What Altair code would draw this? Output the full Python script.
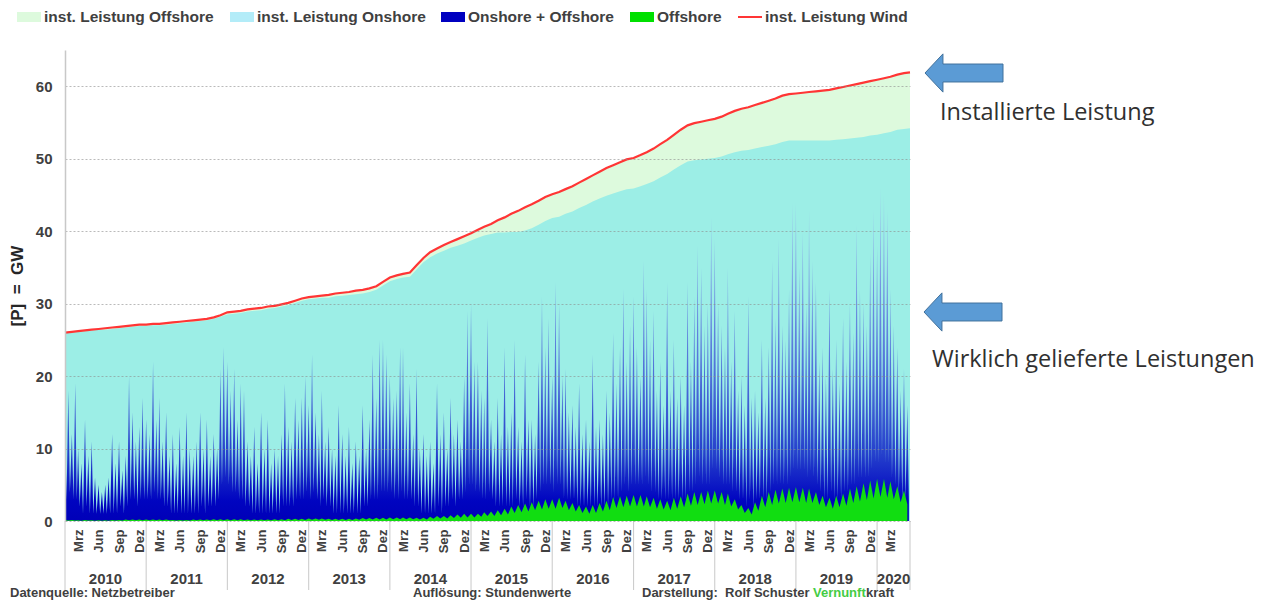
import altair as alt
import pandas as pd

FONT = "Liberation Sans"
TXT = "#404040"

# ---------------- data ----------------
# installed capacity, GW, at the start of each month 2010-01 .. 2020-05, plus end of series
inst_total = [
    26.0, 26.1, 26.2, 26.3, 26.4, 26.5, 26.6, 26.7, 26.8, 26.9, 27.0, 27.1,
    27.1, 27.2, 27.2, 27.3, 27.4, 27.5, 27.6, 27.7, 27.8, 27.9, 28.1, 28.4,
    28.8, 28.9, 29.0, 29.2, 29.3, 29.4, 29.6, 29.7, 29.9, 30.1, 30.4, 30.7,
    30.9, 31.0, 31.1, 31.2, 31.4, 31.5, 31.6, 31.8, 31.9, 32.1, 32.4, 33.0,
    33.6, 33.9, 34.1, 34.3, 35.3, 36.3, 37.1, 37.6, 38.1, 38.5, 38.9, 39.3,
    39.7, 40.2, 40.6, 41.0, 41.5, 41.9, 42.4, 42.8, 43.3, 43.7, 44.2, 44.7,
    45.1, 45.4, 45.8, 46.2, 46.7, 47.2, 47.7, 48.2, 48.7, 49.1, 49.5, 49.9,
    50.1, 50.5, 50.9, 51.4, 52.0, 52.6, 53.3, 54.0, 54.6, 54.9, 55.1, 55.3,
    55.5, 55.8, 56.2, 56.6, 56.9, 57.1, 57.4, 57.7, 58.0, 58.3, 58.7, 58.9,
    59.0, 59.1, 59.2, 59.3, 59.4, 59.5, 59.7, 59.9, 60.1, 60.3, 60.5, 60.7,
    60.9, 61.1, 61.3, 61.6, 61.8, 61.9,
]
inst_onshore = [
    25.9, 26.0, 26.1, 26.2, 26.3, 26.4, 26.4, 26.5, 26.6, 26.7, 26.8, 26.9,
    26.9, 27.0, 27.0, 27.1, 27.2, 27.3, 27.4, 27.5, 27.6, 27.7, 27.9, 28.2,
    28.5, 28.6, 28.7, 28.9, 29.0, 29.1, 29.3, 29.4, 29.6, 29.8, 30.1, 30.4,
    30.6, 30.7, 30.8, 30.8, 31.0, 31.1, 31.2, 31.3, 31.4, 31.6, 31.9, 32.5,
    33.1, 33.4, 33.6, 33.7, 34.7, 35.7, 36.4, 36.9, 37.3, 37.7, 38.0, 38.3,
    38.7, 39.1, 39.4, 39.6, 39.8, 39.8, 39.9, 39.9, 40.1, 40.4, 40.9, 41.4,
    41.8, 42.0, 42.4, 42.7, 43.2, 43.6, 44.1, 44.5, 44.9, 45.2, 45.5, 45.8,
    45.9, 46.2, 46.5, 46.9, 47.4, 47.9, 48.5, 49.1, 49.6, 49.8, 49.9, 50.0,
    50.1, 50.3, 50.6, 50.9, 51.1, 51.2, 51.4, 51.6, 51.8, 52.0, 52.3, 52.5,
    52.5, 52.5, 52.5, 52.5, 52.5, 52.5, 52.6, 52.7, 52.8, 52.9, 53.0, 53.2,
    53.3, 53.5, 53.7, 54.0, 54.1, 54.2,
]

# delivered power onshore + offshore, GW, four readings per month (days 1, 8, 16, 23)
wind_2010 = [15, 3, 18, 4, 12, 3, 19, 3, 10, 2, 8, 1, 14, 2, 9, 1, 11, 1, 6, 1, 5, 1, 4, 1,
             5, 1, 6, 1, 12, 1, 8, 1, 11, 2, 7, 1, 9, 2, 20, 3, 15, 3, 11, 2, 13, 3, 17, 3]
wind_2011 = [14, 3, 12, 3, 22, 4, 14, 3, 17, 3, 11, 2, 15, 2, 9, 1, 12, 1, 8, 1, 13, 1, 9, 1,
             15, 1, 10, 1, 9, 1, 11, 1, 15, 2, 10, 1, 14, 2, 9, 2, 12, 2, 10, 3, 21, 5, 24, 6]
wind_2012 = [22, 5, 18, 4, 21, 4, 14, 3, 19, 3, 18, 2, 11, 2, 9, 1, 13, 1, 8, 1, 15, 1, 10, 1,
             14, 1, 8, 1, 10, 1, 9, 1, 12, 2, 19, 2, 13, 2, 11, 2, 17, 3, 14, 3, 17, 3, 20, 4]
wind_2013 = [16, 3, 23, 4, 15, 3, 12, 2, 18, 3, 11, 2, 13, 2, 10, 1, 9, 1, 16, 1, 12, 1, 9, 1,
             13, 1, 8, 1, 11, 1, 9, 1, 16, 2, 10, 2, 14, 3, 23, 3, 17, 3, 25, 4, 25, 4, 23, 4]
wind_2014 = [20, 4, 17, 3, 18, 3, 24, 4, 24, 3, 15, 3, 19, 3, 12, 2, 21, 2, 10, 1, 12, 1, 9, 1,
             11, 1, 8, 1, 19, 2, 12, 1, 15, 2, 10, 2, 17, 3, 12, 2, 14, 3, 11, 3, 20, 4, 29, 5]
wind_2015 = [30, 5, 22, 4, 22, 4, 18, 3, 17, 3, 28, 4, 14, 3, 11, 2, 17, 2, 12, 2, 24, 2, 13, 2,
             15, 2, 25, 3, 13, 2, 11, 2, 23, 3, 14, 2, 14, 2, 12, 3, 22, 4, 31, 5, 24, 5, 28, 5]
wind_2016 = [20, 4, 33, 5, 30, 5, 20, 3, 21, 3, 15, 3, 16, 3, 13, 2, 19, 2, 12, 2, 14, 2, 11, 2,
             23, 2, 13, 2, 14, 2, 12, 2, 18, 2, 15, 3, 26, 3, 19, 3, 24, 4, 32, 5, 22, 4, 27, 5]
wind_2017 = [31, 5, 24, 5, 20, 5, 36, 6, 32, 5, 25, 4, 29, 4, 18, 3, 22, 3, 16, 3, 33, 3, 18, 3,
             25, 3, 17, 3, 20, 3, 16, 3, 33, 4, 22, 4, 31, 5, 38, 6, 35, 5, 27, 5, 30, 5, 42, 7]
wind_2018 = [39, 7, 30, 6, 27, 5, 24, 5, 35, 5, 22, 4, 29, 4, 18, 3, 20, 3, 16, 2, 31, 3, 17, 2,
             18, 3, 15, 3, 25, 3, 17, 3, 24, 4, 36, 5, 28, 5, 39, 5, 27, 5, 25, 5, 32, 6, 44, 7]
wind_2019 = [44, 7, 35, 7, 40, 7, 30, 6, 43, 7, 36, 6, 33, 5, 22, 4, 24, 3, 20, 3, 32, 4, 21, 3,
             25, 3, 19, 3, 28, 4, 22, 4, 30, 5, 26, 5, 41, 6, 32, 6, 30, 6, 27, 6, 37, 7, 43, 8]
wind_2020 = [38, 8, 46, 9, 45, 8, 43, 8, 32, 6, 27, 5, 24, 4, 18, 3, 21, 3, 16, 3]

# delivered power offshore, GW, two readings per month (days 1, 16)
off_2010 = [0.15, 0.08, 0.15, 0.08, 0.1, 0.05, 0.15, 0.08, 0.1, 0.05, 0.1, 0.05,
            0.1, 0.05, 0.15, 0.08, 0.15, 0.08, 0.2, 0.1, 0.2, 0.1, 0.2, 0.1]
off_2011 = [0.2, 0.1, 0.2, 0.1, 0.2, 0.1, 0.2, 0.1, 0.15, 0.08, 0.15, 0.08,
            0.15, 0.08, 0.2, 0.1, 0.2, 0.1, 0.2, 0.1, 0.25, 0.12, 0.25, 0.12]
off_2012 = [0.25, 0.12, 0.25, 0.12, 0.25, 0.12, 0.2, 0.1, 0.2, 0.1, 0.2, 0.1,
            0.2, 0.1, 0.25, 0.12, 0.25, 0.12, 0.3, 0.15, 0.3, 0.15, 0.3, 0.15]
off_2013 = [0.35, 0.18, 0.35, 0.18, 0.35, 0.18, 0.3, 0.15, 0.3, 0.15, 0.3, 0.15,
            0.3, 0.15, 0.35, 0.18, 0.4, 0.2, 0.4, 0.2, 0.45, 0.22, 0.45, 0.22]
off_2014 = [0.5, 0.25, 0.5, 0.25, 0.5, 0.25, 0.5, 0.25, 0.45, 0.22, 0.45, 0.22,
            0.6, 0.3, 0.7, 0.35, 0.7, 0.35, 0.8, 0.4, 0.9, 0.45, 1.0, 0.5]
off_2015 = [1.0, 0.5, 1.0, 0.6, 1.2, 0.7, 1.3, 0.7, 1.5, 0.8, 1.7, 0.9,
            2.0, 1.1, 2.2, 1.2, 2.4, 1.3, 2.6, 1.5, 2.8, 1.6, 3.0, 1.7]
off_2016 = [3.0, 1.7, 3.2, 1.8, 2.8, 1.5, 2.5, 1.3, 2.2, 1.1, 2.0, 1.0,
            2.2, 1.1, 2.5, 1.3, 2.8, 1.5, 3.3, 1.8, 3.4, 1.9, 3.5, 2.0]
off_2017 = [3.6, 2.0, 3.6, 2.0, 3.4, 1.9, 3.2, 1.7, 3.0, 1.6, 2.8, 1.5,
            3.2, 1.7, 3.4, 1.9, 3.8, 2.1, 4.0, 2.2, 4.0, 2.3, 4.2, 2.4]
off_2018 = [4.2, 2.4, 4.0, 2.2, 3.8, 2.0, 3.0, 1.6, 2.2, 1.1, 1.8, 0.9,
            2.6, 1.4, 3.5, 1.9, 4.0, 2.2, 4.3, 2.4, 4.5, 2.5, 4.6, 2.6]
off_2019 = [4.7, 2.6, 4.6, 2.5, 4.5, 2.5, 4.0, 2.2, 3.5, 1.9, 3.2, 1.7,
            3.5, 1.9, 3.8, 2.1, 4.5, 2.5, 4.8, 2.7, 5.2, 2.9, 5.6, 3.1]
off_2020 = [5.8, 3.3, 5.8, 3.2, 5.5, 3.0, 4.8, 2.6, 4.2, 2.3]

years = [str(y) for y in range(2010, 2021)]
month_names = ["Jan", "Feb", "Mrz", "Apr", "Mai", "Jun", "Jul", "Aug", "Sep", "Okt", "Nov", "Dez"]
legend_labels = ["inst. Leistung Offshore", "inst. Leistung Onshore",
                 "Onshore + Offshore", "Offshore", "inst. Leistung Wind"]

# ---------------- tables ----------------
months = pd.date_range("2010-01-01", "2020-05-01", freq="MS")
end_date = pd.Timestamp("2020-05-28")

df_inst = pd.DataFrame({"date": list(months) + [end_date],
                        "total": inst_total, "onshore": inst_onshore})

wind_values = (wind_2010 + wind_2011 + wind_2012 + wind_2013 + wind_2014 + wind_2015 +
               wind_2016 + wind_2017 + wind_2018 + wind_2019 + wind_2020)
wind_dates = [m + pd.Timedelta(days=d) for m in months for d in (0, 7, 15, 22)]
df_wind = pd.DataFrame({"date": wind_dates, "value": wind_values})

off_values = (off_2010 + off_2011 + off_2012 + off_2013 + off_2014 + off_2015 +
              off_2016 + off_2017 + off_2018 + off_2019 + off_2020)
off_dates = [m + pd.Timedelta(days=d) for m in months for d in (0, 15)]
df_off = pd.DataFrame({"date": off_dates, "value": off_values})

year_mid = [pd.Timestamp(f"{y}-07-02") for y in range(2010, 2020)] + [pd.Timestamp("2020-03-15")]
df_years = pd.DataFrame({"date": year_mid, "label": years})
sep_dates = [pd.Timestamp(f"{y}-01-01") for y in range(2010, 2021)] + [end_date]
df_sep = pd.DataFrame({"date": sep_dates})

# ---------------- scales / axes ----------------
xscale = alt.Scale(domain=[alt.DateTime(year=2010, month=1, date=1),
                           alt.DateTime(year=2020, month=5, date=28)])
month_ticks = [alt.DateTime(year=y, month=m, date=1) for y in range(2010, 2020) for m in (3, 6, 9, 12)]
month_ticks.append(alt.DateTime(year=2020, month=3, date=1))
label_expr = "[" + ",".join(f"'{n}'" for n in month_names) + "][month(datum.value)]"

xaxis = alt.Axis(values=month_ticks, labelExpr=label_expr, labelAngle=270, labelAlign="right",
                 labelBaseline="middle", labelPadding=8, labelFont=FONT, labelFontSize=13,
                 labelFontWeight="bold", labelColor=TXT, labelOverlap=False, ticks=False,
                 domain=False, grid=False, title=None, zindex=1)
X = alt.X("date:T", scale=xscale, axis=xaxis)

yscale = alt.Scale(domain=[0, 65], nice=False)
yaxis = alt.Axis(values=[0, 10, 20, 30, 40, 50, 60], grid=True, gridDash=[2, 2],
                 gridColor="#8c8c8c", gridOpacity=0.6, ticks=False, domainColor="#c8c8c8",
                 domainWidth=1.5, labelFont=FONT, labelFontSize=15, labelFontWeight="bold",
                 labelColor=TXT, labelPadding=13, title="[P]\u00a0\u00a0=\u00a0\u00a0GW",
                 titleFont=FONT, titleFontSize=17, titleFontWeight="bold", titleColor="#262626",
                 titlePadding=9, zindex=1)


def Y(field):
    return alt.Y(f"{field}:Q", scale=yscale, axis=yaxis, stack=None)


C_OFF_INST = "#ddfadd"
C_ON_INST = "#9ceee6"
C_BLUE = "#0000c0"
C_GREEN = "#11dd11"
C_RED = "#ff3535"

wind_gradient = alt.Gradient(
    gradient="linear",
    stops=[alt.GradientStop(offset=0, color="#0000b8"),
           alt.GradientStop(offset=0.06, color="#0004c0"),
           alt.GradientStop(offset=0.2, color="#2540cc"),
           alt.GradientStop(offset=0.45, color="#5072d9"),
           alt.GradientStop(offset=0.75, color="#7b9be3"),
           alt.GradientStop(offset=1, color="#a2bfee")],
    x1=1, x2=1, y1=1, y2=0)

layers = [
    alt.Chart(df_inst).mark_area(color=C_OFF_INST).encode(x=X, y=Y("total")),
    alt.Chart(df_inst).mark_area(color=C_ON_INST).encode(x=X, y=Y("onshore")),
    alt.Chart(df_wind).mark_area(color=wind_gradient, interpolate="linear").encode(x=X, y=Y("value")),
    alt.Chart(df_off).mark_area(color=C_GREEN, interpolate="linear").encode(x=X, y=Y("value")),
    alt.Chart(df_inst).mark_line(color=C_RED, strokeWidth=2.2).encode(x=X, y=Y("total")),
    alt.Chart(df_sep).mark_rule(color="#c8c8c8", strokeWidth=1).encode(
        x=X, y=alt.value(471), y2=alt.value(540)),
    alt.Chart(df_years).mark_text(font=FONT, fontSize=15, fontWeight="bold", color=TXT,
                                  baseline="middle", align="center").encode(
        x=X, y=alt.value(529), text="label:N"),
]

dummy = pd.DataFrame({"a": [0]})


def text(x, y, s, size, color=TXT, weight="bold", font=FONT, align="left", baseline="middle"):
    return alt.Chart(dummy).mark_text(text=s, font=font, fontSize=size, fontWeight=weight,
                                      color=color, align=align, baseline=baseline).encode(
        x=alt.value(x), y=alt.value(y))


def rect(x0, x1, y0, y1, color):
    return alt.Chart(dummy).mark_rect(color=color).encode(
        x=alt.value(x0), x2=alt.value(x1), y=alt.value(y0), y2=alt.value(y1))


# legend (plot coordinates: page minus (65, 50))
sw_x = [-48, 165, 376, 565]
sw_col = [C_OFF_INST, "#b3ecf8", C_BLUE, "#00e000"]
for i in range(4):
    layers.append(rect(sw_x[i], sw_x[i] + 24, -38, -28, sw_col[i]))
    layers.append(text(sw_x[i] + 27, -33, legend_labels[i], 15.5))
layers.append(alt.Chart(dummy).mark_rule(color=C_RED, strokeWidth=2).encode(
    x=alt.value(673), x2=alt.value(697), y=alt.value(-33)))
layers.append(text(700, -33, legend_labels[4], 15.5))

# annotation arrows and texts
ARROW = "M -1 0 L -0.54 -0.49 L -0.54 -0.23 L 1 -0.23 L 1 0.23 L -0.54 0.23 L -0.54 0.49 Z"
for ax_, ay_ in [(899, 23), (898, 262)]:
    layers.append(alt.Chart(dummy).mark_point(shape=ARROW, size=6084, filled=True,
                                              fill="#5b9bd5", stroke="#41719c", strokeWidth=1,
                                              opacity=1).encode(x=alt.value(ax_), y=alt.value(ay_)))
layers.append(text(875, 70, "Installierte Leistung", 23.5, color="#303030", weight="normal",
                   font="Open Sans", baseline="alphabetic"))
layers.append(text(867, 317, "Wirklich gelieferte Leistungen", 23.5, color="#303030",
                   weight="normal", font="Open Sans", baseline="alphabetic"))

# footer
layers.append(text(-55, 547, "Datenquelle: Netzbetreiber", 13, baseline="alphabetic"))
layers.append(text(348, 547, "Auflösung: Stundenwerte", 13, baseline="alphabetic"))
layers.append(text(577, 547, "Darstellung:\u00a0\u00a0Rolf Schuster", 13, baseline="alphabetic"))
layers.append(text(748, 547, "Vernunft", 13, color="#44cc44", baseline="alphabetic"))
layers.append(text(801, 547, "kraft", 13, baseline="alphabetic"))

chart = alt.layer(*layers).properties(
    width=845, height=471,
    padding={"left": 57, "top": 42, "right": 359, "bottom": 79},
    autosize=alt.AutoSizeParams(type="none"),
    background="white",
).configure_view(strokeWidth=0)

chart.save("out.html", embed_options={"renderer": "svg", "actions": False})
